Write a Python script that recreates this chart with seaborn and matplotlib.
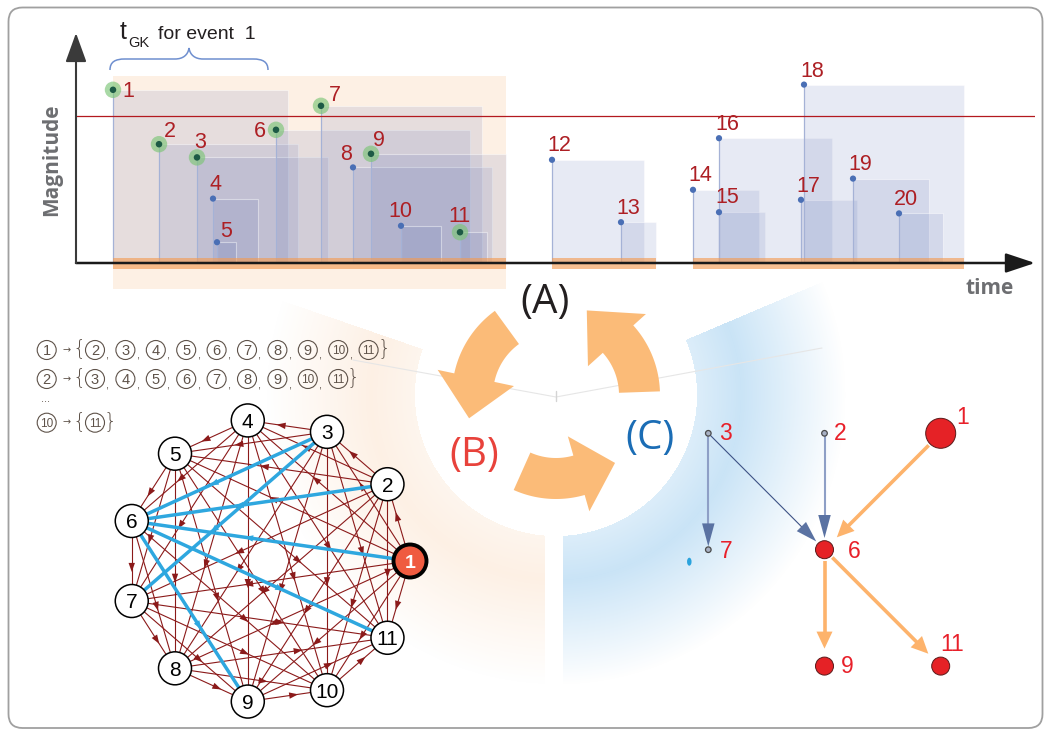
import numpy as np
import pandas as pd
import matplotlib
matplotlib.use("Agg")
import matplotlib.pyplot as plt
from matplotlib.patches import Polygon, Circle, Ellipse, FancyBboxPatch, PathPatch, Rectangle
from matplotlib.path import Path
import seaborn as sns

# ---------------- event catalogue (panel A) ----------------
event_id = list(range(1, 21))
event_time = [3.7, 8.3, 12.1, 13.7, 14.1, 20.0, 24.5, 27.7, 29.5, 32.5,
              38.4, 47.6, 54.5, 61.7, 64.3, 64.3, 72.5, 72.8, 77.7, 82.3]
event_mag = [6.33, 4.97, 4.64, 3.61, 2.52, 5.33, 5.93, 4.39, 4.73, 2.93,
             2.77, 4.58, 3.02, 3.83, 3.27, 5.12, 3.58, 6.46, 4.11, 3.24]
gk_window = [17.5, 13.9, 13.1, 4.5, 1.9, 19.4, 16.1, 13.9, 13.5, 4.0,
             2.7, 9.2, 3.5, 6.6, 4.6, 11.3, 5.6, 16.0, 7.6, 4.4]
cluster_id = [1] * 11 + [2] * 2 + [3] * 7
mag_base = 2.0
mag_threshold = 5.68
focus_cluster = 1

# ---------------- genealogy of the focus cluster (panel C) ----------------
tree_edges = [(3, 7), (3, 6), (2, 6), (1, 6), (6, 9), (6, 11)]
tree_root = 1
tree_col = {3: 0, 2: 1, 1: 2, 7: 0, 6: 1, 9: 1, 11: 2}
tree_row = {3: 0, 2: 0, 1: 0, 7: 1, 6: 1, 9: 2, 11: 2}

cycle_labels = ["(A)", "(B)", "(C)"]

# ---------------- styling ----------------
sns.set_theme(style="white")
plt.rcParams["font.family"] = ["Liberation Sans", "DejaVu Sans"]

W, H = 1045, 731
PT = 72 / 100          # points per pixel at dpi 100
fig = plt.figure(figsize=(W / 100, H / 100), dpi=100)

bg = fig.add_axes([0, 0, 1, 1])
bg.set_xlim(0, W)
bg.set_ylim(H, 0)
bg.axis("off")


def ctext(ax, x, y, s, fs, **kw):
    """Text whose digit/cap height is vertically centred on y (pixel axes)."""
    ax.text(x, y + 0.358 * fs / PT, s, fontsize=fs, ha="center", va="baseline", **kw)


def arrow(ax, p0, p1, sa, sb, lw, lc, hl, hw, hc, z):
    p0, p1 = np.asarray(p0, float), np.asarray(p1, float)
    u = (p1 - p0) / np.linalg.norm(p1 - p0)
    n = np.array([-u[1], u[0]])
    s = p0 + u * sa
    tip = p1 - u * sb
    base = tip - u * hl
    ax.plot([s[0], base[0] + 2 * u[0]], [s[1], base[1] + 2 * u[1]], color=lc, lw=lw,
            solid_capstyle="butt", zorder=z)
    ax.add_patch(Polygon([tip, base + n * hw / 2, base - n * hw / 2], closed=True,
                         fc=hc, ec="none", zorder=z + 0.1))


# outer frame
bg.add_patch(FancyBboxPatch((8.5, 7.5), 1034, 720.5, boxstyle="round,pad=0,rounding_size=14",
                            fc="none", ec="#a0a0a0", lw=1.3, zorder=1))

# ---------------- soft ring sectors behind (B) and (C) ----------------
cx, cy = 556.0, 395.0
yy, xx = np.mgrid[0:H, 0:W] + 0.5
dx, dy = xx - cx, cy - yy
rr = np.hypot(dx, dy)
ang = np.degrees(np.arctan2(dy, dx))
r_in, r_peak, r_out = 141.0, 185.0, 290.0
prof = np.where(rr < r_in, 0.0,
                np.where(rr < r_peak, 0.65 + 0.35 * (rr - r_in) / (r_peak - r_in),
                         np.clip((r_out - rr) / (r_out - r_peak), 0, 1)))
peach_mask = ((ang >= 161) | (ang <= -90)) & (xx < 545)
blue_mask = (ang >= -90) & (ang <= 23) & (xx > 563)
img = np.ones((H, W, 4))
img[..., 3] = 0
img[peach_mask, :3] = np.array([251, 222, 196]) / 255
img[peach_mask, 3] = prof[peach_mask] * 0.45
img[blue_mask, :3] = np.array([192, 223, 245]) / 255
img[blue_mask, 3] = prof[blue_mask] * 0.85
bg.imshow(img, extent=(0, W, H, 0), interpolation="bilinear", zorder=0, aspect="auto")
bg.set_xlim(0, W)
bg.set_ylim(H, 0)

bg.plot([353, cx, 822], [360, cy + 2, 348], color="#e6e6e6", lw=0.8, zorder=1)
bg.plot([cx, cx], [cy - 4, cy + 6], color="#d4d4d4", lw=1.0, zorder=1)


# ---------------- cycle arrows ----------------
def ring_arrow(a_tail, a_base, a_tip, r_i=63, r_o=104, h_i=43, h_o=121, r_t=90):
    def p(a, r):
        return (cx + r * np.cos(np.radians(a)), cy - r * np.sin(np.radians(a)))
    arc = np.linspace(a_tail, a_base, 40)
    pts = ([p(a, r_o) for a in arc] + [p(a_base, h_o), p(a_tip, r_t), p(a_base, h_i)]
           + [p(a, r_i) for a in arc[::-1]])
    bg.add_patch(Polygon(pts, closed=True, fc="#fbbb78", ec="none", zorder=3))


for a0, a1, a2 in [(126, 168, 195), (246, 286, 311), (2, 42, 70)]:
    ring_arrow(a0, a1, a2)

for lab, (x, y), col in zip(cycle_labels, [(545, 303), (474, 456), (650, 439)],
                            ["#231f20", "#e8423b", "#1b6db5"]):
    bg.text(x, y, lab, fontsize=29, ha="center", va="center", color=col,
            family=["Open Sans", "DejaVu Sans"], zorder=4)

# ---------------- panel B: all ordered pairs of the focus cluster ----------------
b_nodes = [e for e, c in zip(event_id, cluster_id) if c == focus_cluster]
b_c = np.array([268.0, 561.0])
b_R, b_nr = 142.0, 16.5
b_ang = np.radians(np.arange(len(b_nodes)) * 360 / len(b_nodes))
b_pos = {n: b_c + b_R * np.array([np.cos(a), -np.sin(a)]) for n, a in zip(b_nodes, b_ang)}
tree_set = {frozenset(e) for e in tree_edges}

for i in b_nodes:
    for j in b_nodes:
        if i < j:
            hl = frozenset((i, j)) in tree_set
            col = "#2ea7df" if hl else "#8b1a1a"
            z = 5.5 if hl else 5
            p0, p1 = b_pos[i], b_pos[j]
            bg.plot([p0[0], p1[0]], [p0[1], p1[1]], color=col, lw=2.5 if hl else 0.8, zorder=z)
            u = (p1 - p0) / np.linalg.norm(p1 - p0)
            nrm = np.array([-u[1], u[0]])
            c = p0 + 0.58 * (p1 - p0)
            tip, base = c + u * 4.5, c - u * 4.5
            bg.add_patch(Polygon([tip, base + nrm * 3.2, base - nrm * 3.2], closed=True,
                                 fc=col, ec="none", zorder=z + 0.1))

for n in b_nodes:
    x, y = b_pos[n]
    if n == tree_root:
        bg.add_patch(Circle((x, y), b_nr, fc="#ef5b40", ec="black", lw=2.8, zorder=7))
        ctext(bg, x, y, str(n), 14, color="white", weight="bold", zorder=8)
    else:
        bg.add_patch(Circle((x, y), b_nr, fc="white", ec="black", lw=1.1, zorder=7))
        ctext(bg, x, y, str(n), 15, color="black", zorder=8)

# pair lists written above the graph
ink = "#5e5249"


def circled(x, y, s):
    bg.add_patch(Circle((x, y), 9.5, fc="none", ec=ink, lw=0.8, zorder=6))
    ctext(bg, x, y, s, 10.5 if len(s) == 1 else 8.5, color=ink, zorder=6)


row_y = {b_nodes[0]: 350, b_nodes[1]: 379, b_nodes[-2]: 422.7}
for k, y in row_y.items():
    succ = [j for j in b_nodes if j > k]
    circled(46.7, y, str(k))
    bg.text(66.5, y, "\u2192", fontsize=7, ha="center", va="center", color=ink, zorder=6,
            family=["DejaVu Sans"])
    bg.text(79, y - 1.5, "{", fontsize=15, ha="center", va="center", color=ink, zorder=6,
            family=["DejaVu Sans"], weight="light")
    for m, j in enumerate(succ):
        x = 95 + 30.4 * m
        circled(x, y, str(j))
        if m < len(succ) - 1:
            bg.text(x + 12, y + 6, ",", fontsize=8, ha="center", va="center", color=ink, zorder=6)
    bg.text(95 + 30.4 * (len(succ) - 1) + 15, y - 1.5, "}", fontsize=15, ha="center",
            va="center", color=ink, zorder=6, family=["DejaVu Sans"], weight="light")
bg.text(46, 399, "...", fontsize=8, ha="center", va="center", color=ink, zorder=6)

# ---------------- panel C: genealogy tree ----------------
c_origin = np.array([708.3, 433.3])
c_step = np.array([116.2, 116.4])
c_pos = {n: c_origin + c_step * np.array([tree_col[n], tree_row[n]]) for n in tree_col}

desc = {tree_root}
grew = True
while grew:
    grew = False
    for a, b in tree_edges:
        if a in desc and b not in desc:
            desc.add(b)
            grew = True

c_radius = {n: (15 if n == tree_root else 9 if n in desc else 2.8) for n in c_pos}
thin_edges = {(3, 6)}
for a, b in tree_edges:
    ra, rb = c_radius[a], c_radius[b]
    if a in desc and b in desc:
        arrow(bg, c_pos[a], c_pos[b], ra + 2, rb + 8.5, 2.6, "#fdb36c", 17, 16, "#fdb36c", 5)
    elif (a, b) in thin_edges:
        arrow(bg, c_pos[a], c_pos[b], ra, rb + 2.7, 0.8, "#3d5285", 21, 13, "#5a72a2", 5)
    else:
        arrow(bg, c_pos[a], c_pos[b], ra, rb + 2.7 if rb > 5 else rb + 0.5, 1.5, "#8e9fc6",
              23, 12.5, "#5a72a2", 5)

for n, (x, y) in c_pos.items():
    if n in desc:
        bg.add_patch(Circle((x, y), c_radius[n], fc="#e52226", ec="#5a1a1a", lw=0.7, zorder=7))
    else:
        bg.add_patch(Circle((x, y), c_radius[n], fc="#a8b1c4", ec="#4a4a4a", lw=0.9, zorder=7))

c_label_offset = {3: (17.5, -1.3), 2: (15.7, -1.3), 1: (21.8, -17.5), 7: (17.5, -0.3),
                  6: (29.9, -0.3), 9: (22.5, -1.0), 11: (11.3, -23.7)}
for n, (ox, oy) in c_label_offset.items():
    x, y = c_pos[n]
    ctext(bg, x + ox, y + oy, str(n), 16.5, color="#e8202a", zorder=8)

bg.add_patch(Ellipse((689.3, 561.7), 4.5, 8, fc="#2aa3dd", ec="none", zorder=6))

# ---------------- panel A: magnitude-time plot ----------------
AX_L, AX_R, AX_T, AX_B = 76, 1035, 33, 263
ax = fig.add_axes([AX_L / W, 1 - AX_B / H, (AX_R - AX_L) / W, (AX_B - AX_T) / H])
ax.set_xlim(0, (AX_R - AX_L) / 10)
ax.set_ylim(mag_base, mag_base + (AX_B - AX_T) / 40)
ax.patch.set_alpha(0)

df = pd.DataFrame(dict(event=event_id, t=event_time, mag=event_mag, win=gk_window,
                       cluster=cluster_id))
df["t_end"] = df.t + df.win
spans = df.groupby("cluster").agg(t0=("t", "min"), t1=("t_end", "max"), mmax=("mag", "max"))

fs_ = spans.loc[focus_cluster]
ax.add_patch(Rectangle((fs_.t0, mag_base - 0.64), fs_.t1 - fs_.t0, fs_.mmax + 0.35 - mag_base + 0.64,
                       fc="#fdf0e4", ec="none", clip_on=False, zorder=0.5))

ax.bar(df.t, df.mag - mag_base, width=df.win, bottom=mag_base, align="edge",
       color=(0.353, 0.431, 0.706, 0.14), edgecolor=(1, 1, 1, 0.45), linewidth=0.8, zorder=1)
ax.vlines(df.t, mag_base, df.mag, color="#a5b2d6", lw=0.9, zorder=1.5)

for cl, row in spans.iterrows():
    ax.add_patch(Rectangle((row.t0, mag_base - 0.15), row.t1 - row.t0, 0.275,
                           fc="#f49a50", alpha=0.62, ec="none", clip_on=False, zorder=2))

ax.axhline(mag_threshold, color="#b3191f", lw=0.9, zorder=2.5)

ax.annotate("", xy=(1, 0), xytext=(0, 0), xycoords="axes fraction",
            arrowprops=dict(arrowstyle="-|>,head_length=1.8,head_width=0.6", mutation_scale=10,
                            color="#1a1a1a", lw=1.8, shrinkA=0, shrinkB=0), zorder=3)
ax.annotate("", xy=(0, 1), xytext=(0, 0), xycoords="axes fraction",
            arrowprops=dict(arrowstyle="-|>,head_length=1.8,head_width=0.65", mutation_scale=10,
                            color="#3a3a3a", lw=1.5, shrinkA=0, shrinkB=0), zorder=3)

linked = df.event.isin(c_pos.keys())
sns.scatterplot(data=df[linked], x="t", y="mag", s=140, color="#7cc576", alpha=0.65,
                edgecolor="none", ax=ax, zorder=4, legend=False)
sns.scatterplot(data=df[linked], x="t", y="mag", s=22, color="#1d5a45",
                edgecolor="none", ax=ax, zorder=4.5, legend=False)
sns.scatterplot(data=df[~linked], x="t", y="mag", s=20, color="#4a6fb5",
                edgecolor="none", ax=ax, zorder=4.5, legend=False)

a_label_offset = {1: (15.6, -0.5), 2: (10.8, -14.8), 3: (2.7, -16.8), 4: (2.9, -16.2),
                  5: (9.2, -13.1), 6: (-15.7, -0.2), 7: (13.5, -12.2), 8: (-7.1, -15.1),
                  9: (8.0, -15.9), 10: (-0.2, -16.5), 11: (-1.0, -17.8), 12: (7.5, -16.2),
                  13: (7.1, -16.0), 14: (7.8, -16.7), 15: (7.8, -16.5), 16: (8.0, -15.8),
                  17: (7.7, -15.4), 18: (7.9, -15.4), 19: (7.5, -16.4), 20: (7.0, -16.0)}
fsz = 15.5
for ev, t, m in zip(event_id, event_time, event_mag):
    ox, oy = a_label_offset[ev]
    ax.annotate(str(ev), (t, m), xytext=(ox * PT, -oy * PT - 0.358 * fsz),
                textcoords="offset points", ha="center", va="baseline", fontsize=fsz,
                color="#ad1f24", zorder=6, annotation_clip=False)
ax.axis("off")

# axis titles
bg.text(990, 289, "time", fontsize=15, weight="bold", color="#6d6e71", ha="center",
        va="center", family=["Open Sans", "DejaVu Sans"])
bg.text(52, 160, "Magnitude", fontsize=15, weight="bold", color="#6d6e71", ha="center",
        va="center", rotation=90, family=["Open Sans", "DejaVu Sans"])

# window brace for the first event
brace = Path([(110, 70), (110, 62), (115, 59), (125, 59), (175, 59),
              (183, 59), (188, 55), (189, 48),
              (190, 55), (195, 59), (203, 59), (253, 59),
              (263, 59), (268, 62), (268, 70)],
             [Path.MOVETO, Path.CURVE4, Path.CURVE4, Path.CURVE4, Path.LINETO,
              Path.CURVE4, Path.CURVE4, Path.CURVE4,
              Path.CURVE4, Path.CURVE4, Path.CURVE4, Path.LINETO,
              Path.CURVE4, Path.CURVE4, Path.CURVE4])
bg.add_patch(PathPatch(brace, fc="none", ec="#6f8fcf", lw=1.1, zorder=3))
bg.text(120, 39, "t", fontsize=18, color="#231f20", va="baseline")
bg.text(128.5, 47, "GK", fontsize=10.5, color="#231f20", va="baseline")
bg.text(158, 39, "for event  1", fontsize=14, color="#231f20", va="baseline")

fig.savefig("out.png", dpi=100)
